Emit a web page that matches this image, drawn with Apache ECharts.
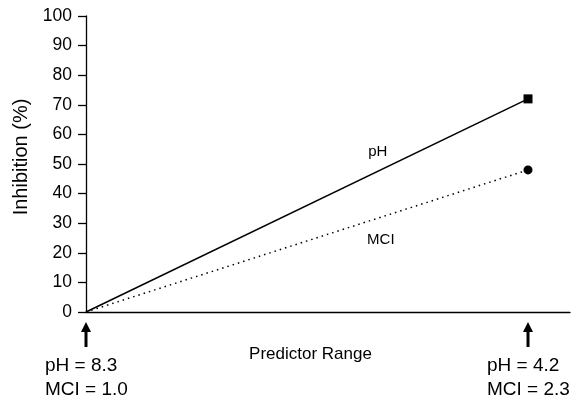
<!DOCTYPE html>
<html>
<head>
<meta charset="utf-8">
<script src="https://cdn.jsdelivr.net/npm/echarts@6/dist/echarts.min.js"></script>
<style>
html, body { margin: 0; padding: 0; background: #fff; }
#main { width: 581px; height: 399px; }
</style>
</head>
<body>
<div id="main"></div>
<script>
// position along the predictor range (0 = low end, 1 = high end)
const rangeX = [0, 1];
const phValues = [0, 72];
const mciValues = [0, 48];
const rangeLabels = ['pH = 8.3\nMCI = 1.0', 'pH = 4.2\nMCI = 2.3'];
const yTicks = [0, 10, 20, 30, 40, 50, 60, 70, 80, 90, 100];

const FONT = 'Liberation Sans, Arial, sans-serif';

const chart = echarts.init(document.getElementById('main'));

function pairs(ys) {
  return rangeX.map((x, i) => {
    return {
      value: [x, ys[i]],
      symbolSize: i === rangeX.length - 1 ? 9 : 0
    };
  });
}

function lineLabel(text, coord) {
  return {
    symbol: 'circle',
    symbolSize: 1,
    itemStyle: { color: 'rgba(0,0,0,0)' },
    label: { show: true, position: 'inside', formatter: text, fontFamily: FONT, fontSize: 15, color: '#000' },
    data: [{ coord: coord }]
  };
}

const option = {
  animation: false,
  backgroundColor: '#fff',
  grid: { left: 86, right: 11, top: 16, bottom: 87 },
  xAxis: {
    type: 'value',
    min: 0,
    max: 1.095,
    interval: 1,
    name: 'Predictor Range',
    nameLocation: 'middle',
    nameGap: 34,
    nameTextStyle: { fontFamily: FONT, fontSize: 17, color: '#000', padding: [0, 35, 0, 0] },
    axisLine: { lineStyle: { color: '#000', width: 1.3 } },
    axisTick: { show: false },
    axisLabel: { show: false },
    splitLine: { show: false }
  },
  yAxis: {
    type: 'value',
    min: yTicks[0],
    max: yTicks[yTicks.length - 1],
    interval: 10,
    name: 'Inhibition (%)',
    nameLocation: 'middle',
    nameGap: 54,
    nameTextStyle: { fontFamily: FONT, fontSize: 20, color: '#000', padding: [0, 0, 0, 14] },
    axisLine: { show: true, lineStyle: { color: '#000', width: 1.3 } },
    axisTick: { show: true, inside: false, length: 8, lineStyle: { color: '#000', width: 1.3 } },
    axisLabel: { fontFamily: FONT, fontSize: 17.5, color: '#000', margin: 14 },
    splitLine: { show: false }
  },
  series: [
    {
      name: 'pH',
      type: 'line',
      data: pairs(phValues),
      symbol: 'rect',
      itemStyle: { color: '#000' },
      lineStyle: { color: '#000', width: 1.5, type: 'solid' },
      markPoint: lineLabel('pH', [0.66, 54])
    },
    {
      name: 'MCI',
      type: 'line',
      data: pairs(mciValues),
      symbol: 'circle',
      itemStyle: { color: '#000' },
      lineStyle: { color: '#000', width: 1.5, type: [1.5, 4] },
      markPoint: lineLabel('MCI', [0.667, 24.5])
    }
  ]
};

chart.setOption(option);

// arrows and range labels under the axis ends, placed through the axis scale
const graphics = [];
rangeX.forEach((x, i) => {
  const p = chart.convertToPixel({ gridIndex: 0 }, [x, 0]);
  const top = p[1] + 10;
  graphics.push({
    type: 'polygon',
    shape: { points: [[p[0], top], [p[0] - 5, top + 10], [p[0] + 5, top + 10]] },
    style: { fill: '#000' }
  });
  graphics.push({
    type: 'rect',
    shape: { x: p[0] - 1.5, y: top + 9, width: 3, height: 16 },
    style: { fill: '#000' }
  });
  graphics.push({
    type: 'text',
    x: p[0] - 41,
    y: top + 32,
    style: {
      text: rangeLabels[i],
      font: '19px ' + FONT,
      fill: '#000',
      lineHeight: 24,
      align: 'left'
    }
  });
});
chart.setOption({ graphic: graphics });
</script>
</body>
</html>
